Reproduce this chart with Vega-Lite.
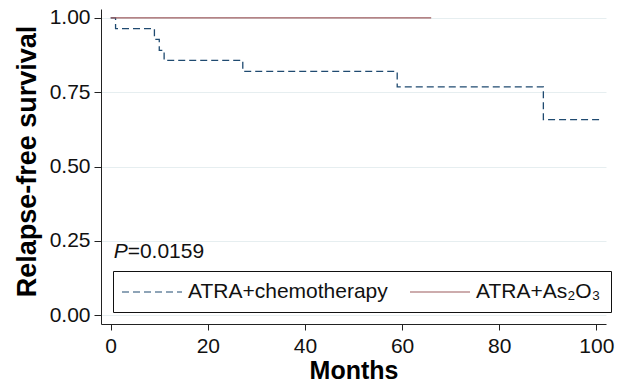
{
  "$schema": "https://vega.github.io/schema/vega-lite/v6.json",
  "autosize": {"type": "none"},
  "padding": {"left": 101, "top": 9, "right": 37, "bottom": 63},
  "width": 505,
  "height": 315,
  "background": "white",
  "config": {
    "view": {"stroke": null},
    "font": "Liberation Sans",
    "axis": {
      "domainColor": "#222",
      "tickColor": "#222",
      "labelColor": "#111",
      "titleColor": "#000",
      "labelFont": "Liberation Sans",
      "titleFont": "Liberation Sans",
      "labelFontSize": 21,
      "titleFontSize": 26,
      "titleFontWeight": "bold",
      "tickSize": 7,
      "gridColor": "#e6eef0",
      "gridWidth": 1
    }
  },
  "data": {
    "values": [
      {"group": "ATRA+chemotherapy", "months": 0, "survival": 1.0},
      {"group": "ATRA+chemotherapy", "months": 1, "survival": 0.964},
      {"group": "ATRA+chemotherapy", "months": 9, "survival": 0.928},
      {"group": "ATRA+chemotherapy", "months": 10, "survival": 0.891},
      {"group": "ATRA+chemotherapy", "months": 11, "survival": 0.857},
      {"group": "ATRA+chemotherapy", "months": 27.2, "survival": 0.820},
      {"group": "ATRA+chemotherapy", "months": 59, "survival": 0.768},
      {"group": "ATRA+chemotherapy", "months": 89.1, "survival": 0.658},
      {"group": "ATRA+chemotherapy", "months": 101, "survival": 0.658},
      {"group": "ATRA+As₂O₃", "months": 0, "survival": 1.0},
      {"group": "ATRA+As₂O₃", "months": 66, "survival": 1.0}
    ]
  },
  "layer": [
    {
      "mark": {"type": "line", "interpolate": "step-after", "strokeWidth": 1.3},
      "encoding": {
        "x": {
          "field": "months", "type": "quantitative",
          "scale": {"domain": [-2, 102], "nice": false, "zero": false},
          "axis": {"values": [0, 20, 40, 60, 80, 100], "grid": false, "title": "Months", "titleFontSize": 25, "labelPadding": 5, "titlePadding": 2, "tickSize": 6}
        },
        "y": {
          "field": "survival", "type": "quantitative",
          "scale": {"domain": [-0.03, 1.03], "nice": false, "zero": false},
          "axis": {"values": [0, 0.25, 0.5, 0.75, 1], "format": ".2f", "grid": true, "title": "Relapse-free survival", "titleFontSize": 27, "titleY": 152, "labelPadding": 4, "titlePadding": 8}
        },
        "color": {
          "field": "group", "type": "nominal",
          "scale": {"domain": ["ATRA+chemotherapy", "ATRA+As₂O₃"], "range": ["#1f4a70", "#9b5a5c"]},
          "legend": {
            "title": null,
            "orient": "bottom-left",
            "offset": 12,
            "direction": "horizontal",
            "strokeColor": "#111",
            "padding": 10,
            "symbolType": "M-3,0H3",
            "symbolSize": 400,
            "symbolOffset": 18,
            "symbolStrokeWidth": 1.2,
            "labelFontSize": 21,
            "labelColor": "#111",
            "labelFont": "Liberation Sans",
            "labelOffset": 25,
            "columnPadding": 19,
            "labelLimit": 400
          }
        },
        "strokeDash": {
          "field": "group", "type": "nominal",
          "scale": {"domain": ["ATRA+chemotherapy", "ATRA+As₂O₃"], "range": [[7, 4], [1, 0]]},
          "legend": null
        }
      }
    },
    {
      "data": {"values": [{"label": "P"}]},
      "mark": {"type": "text", "align": "left", "baseline": "alphabetic", "fontSize": 21, "fontStyle": "italic", "color": "#111", "font": "Liberation Sans"},
      "encoding": {
        "x": {"datum": 0.6, "type": "quantitative"},
        "y": {"datum": 0.193, "type": "quantitative"},
        "text": {"field": "label"}
      }
    },
    {
      "data": {"values": [{"label": "=0.0159"}]},
      "mark": {"type": "text", "align": "left", "baseline": "alphabetic", "fontSize": 21, "dx": 14, "color": "#111", "font": "Liberation Sans"},
      "encoding": {
        "x": {"datum": 0.6, "type": "quantitative"},
        "y": {"datum": 0.193, "type": "quantitative"},
        "text": {"field": "label"}
      }
    }
  ]
}
